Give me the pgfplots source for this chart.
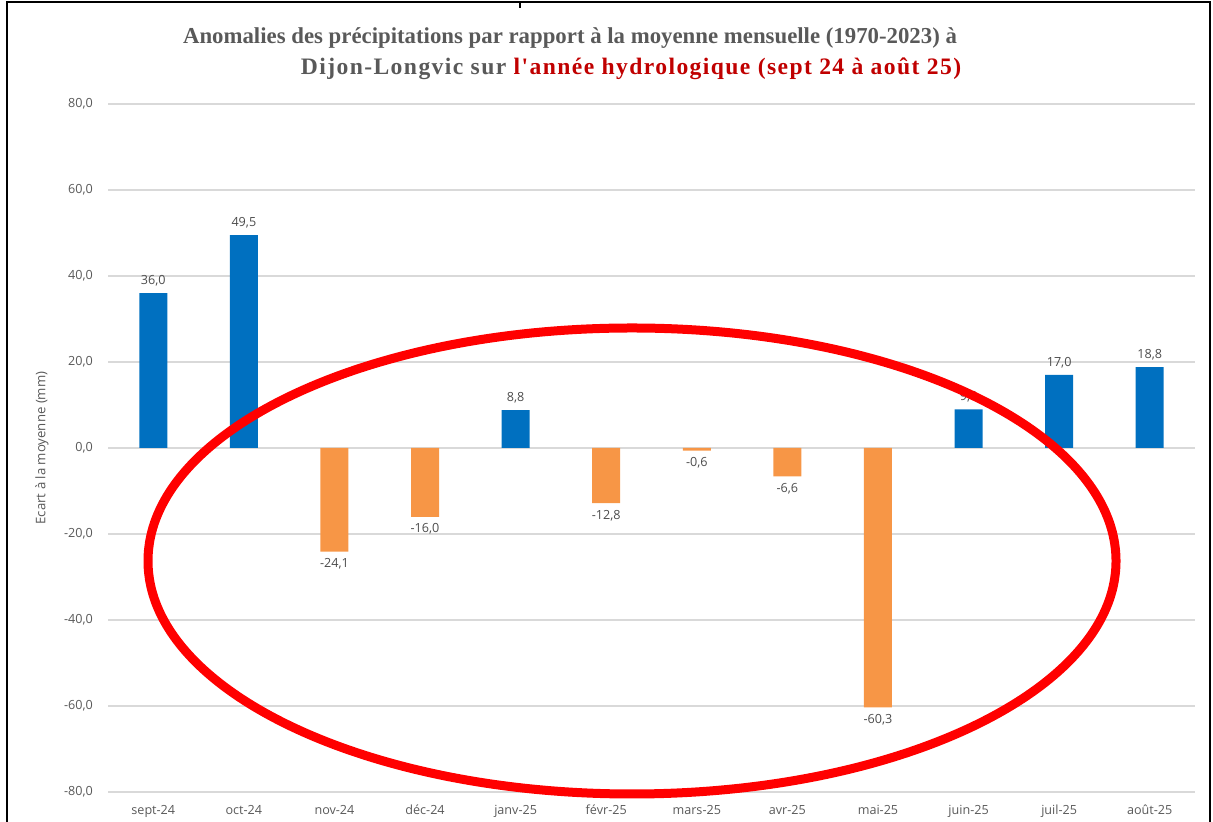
\documentclass[border=0pt]{standalone}
\usepackage{fontspec}
\setmainfont{Open Sans}
\newfontfamily\titlefont{Liberation Serif}
\newfontfamily\titlefontwide{Liberation Serif}[LetterSpace=6]
\usepackage{pgfplots}
\pgfplotsset{compat=1.18}
\definecolor{txtgrey}{HTML}{595959}
\definecolor{gridgrey}{HTML}{D9D9D9}
\definecolor{barblue}{HTML}{0070C0}
\definecolor{barorange}{HTML}{F79646}
\definecolor{titlered}{HTML}{C00000}
\begin{document}
\begin{tikzpicture}
\path[use as bounding box] (0,0) rectangle (606.5pt,411pt);
\begin{axis}[
  at={(54pt,15pt)}, anchor=south west,
  scale only axis,
  width=543.5pt, height=344pt,
  xmin=-0.5, xmax=11.5,
  ymin=-80, ymax=80,
  ytick={-80,-60,...,80},
  xtick={0,...,11},
  xticklabels={sept-24,oct-24,nov-24,déc-24,janv-25,févr-25,mars-25,avr-25,mai-25,juin-25,juil-25,août-25},
  axis line style={draw=none},
  major tick length=0pt,
  ymajorgrids,
  grid style={gridgrey, line width=0.8pt},
  /pgf/number format/.cd, fixed, fixed zerofill, precision=1, use comma, assume math mode=true,
  /pgfplots/.cd,
  tick label style={font=\fontsize{6.3}{7.5}\selectfont, text=txtgrey},
  yticklabel style={xshift=-4pt},
  xticklabel style={yshift=-3pt},
  ylabel={Ecart à la moyenne (mm)},
  every axis y label/.style={at={(axis description cs:-0.0607,0.5)}, rotate=90, anchor=center, font=\fontsize{6.6}{8}\selectfont, text=txtgrey},
  ybar, bar width=14pt,
  nodes near coords,
  every node near coord/.append style={font=\fontsize{6.3}{7.5}\selectfont, text=black!70},
]
\addplot[fill=barblue, draw=none, bar shift=0pt,
  nodes near coords align={anchor=south}]
  coordinates {(0,36.0) (1,49.5) (4,8.8) (9,9.0) (10,17.0) (11,18.8)};
\addplot[fill=barorange, draw=none, bar shift=0pt,
  nodes near coords align={anchor=north}]
  coordinates {(2,-24.1) (3,-16.0) (5,-12.8) (6,-0.6) (7,-6.6) (8,-60.3)};
\end{axis}
\node[font=\titlefont\bfseries\fontsize{11.4}{13}\selectfont, text=txtgrey] at (285pt,392pt)
  {Anomalies des précipitations par rapport à la moyenne mensuelle (1970-2023) à};
\node[font=\titlefontwide\bfseries\fontsize{11.8}{14}\selectfont, text=txtgrey] at (315.5pt,376.5pt)
  {Dijon-Longvic sur \textcolor{titlered}{l'année hydrologique (sept 24 à août 25)}};
\draw[red, line width=4.5pt] (316pt,130.5pt) ellipse [x radius=242pt, y radius=116.5pt];
\draw[black, line width=1pt] (3.5pt,0pt) -- (3.5pt,410pt) -- (605pt,410pt) -- (605pt,0pt);
\draw[black, line width=0.6pt] (260pt,410pt) -- (260pt,407pt);
\end{tikzpicture}
\end{document}
